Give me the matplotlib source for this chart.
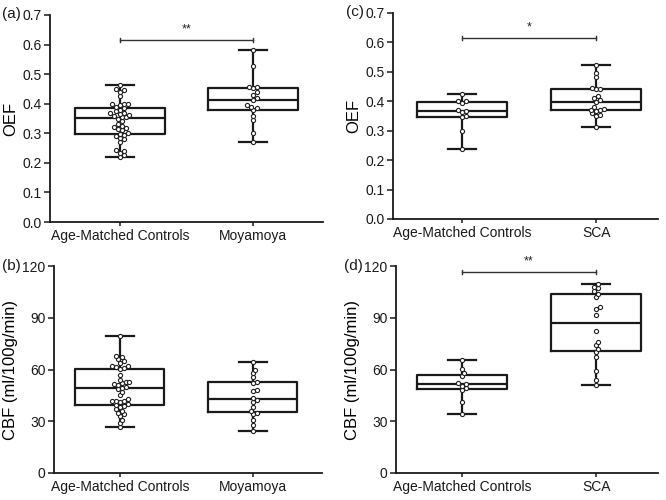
import numpy as np
import matplotlib
matplotlib.use("Agg")
import matplotlib.pyplot as plt

plt.rcParams['font.family'] = ['Liberation Sans', 'DejaVu Sans']

# ---------------- data ----------------
groups_a = ["Age-Matched Controls", "Moyamoya"]
groups_c = ["Age-Matched Controls", "SCA"]

oef_ctrl_moya = [0.22, 0.225, 0.235, 0.24, 0.245, 0.27, 0.28, 0.285, 0.29, 0.295,
                 0.298, 0.30, 0.31, 0.315, 0.318, 0.32, 0.325, 0.33, 0.34, 0.35,
                 0.354, 0.355, 0.36, 0.362, 0.365, 0.368, 0.37, 0.375, 0.38, 0.385,
                 0.39, 0.395, 0.398, 0.40, 0.40, 0.425, 0.44, 0.445, 0.45, 0.462]
oef_moya = [0.27, 0.30, 0.345, 0.36, 0.378, 0.385, 0.39, 0.395, 0.412, 0.42,
            0.43, 0.44, 0.452, 0.455, 0.458, 0.528, 0.58]

oef_ctrl_sca = [0.237, 0.30, 0.345, 0.35, 0.362, 0.368, 0.372, 0.395, 0.40, 0.402, 0.425]
oef_sca = [0.312, 0.35, 0.352, 0.36, 0.368, 0.37, 0.372, 0.375, 0.38, 0.398,
           0.405, 0.41, 0.418, 0.442, 0.443, 0.445, 0.482, 0.495, 0.522]

cbf_ctrl_moya = [26.5, 29, 31, 33, 34, 35, 36, 37, 38, 39,
                 39.5, 40, 41, 41.5, 42, 42, 43, 45, 47, 48.5,
                 49.5, 50, 51, 51.5, 52, 52.5, 53, 54, 57, 60.3,
                 61, 61.5, 62, 62, 64, 65, 66, 67, 68, 79.3]
cbf_moya = [24.5, 28, 30.5, 34, 35, 36, 38, 41, 42.5, 43.5,
            47.5, 48, 52, 53, 55.5, 58, 60, 64.5]

cbf_ctrl_sca = [34, 41, 48, 49, 50.5, 51.5, 52, 56, 58, 60.5, 65.5]
cbf_sca = [51, 54, 59, 67.5, 70, 72, 74, 76, 82.5,
           91.5, 95, 96, 102, 104, 105.5, 107, 108, 109.5]

oef_ticks = [0.0, 0.1, 0.2, 0.3, 0.4, 0.5, 0.6, 0.7]
cbf_ticks = [0, 30, 60, 90, 120]

# ---------------- layout ----------------
W, H = 666, 500
fig = plt.figure(figsize=(W / 100, H / 100), dpi=100)


def ax_at(l, r, t, b):
    return fig.add_axes([l / W, 1 - b / H, (r - l) / W, (b - t) / H])


def swarm_offsets(ax, values, pos, diam_px=3.8):
    """Simple beeswarm: compute x offsets in pixels avoiding overlap."""
    trans = ax.transData
    ys = np.array([trans.transform((pos, v))[1] for v in values])
    order = np.argsort(ys)
    placed = []
    offs = np.zeros(len(values))
    for i in order:
        y = ys[i]
        cands = [0.0]
        for k in range(1, 14):
            cands += [k * 0.5 * diam_px, -k * 0.5 * diam_px]
        for c in cands:
            ok = True
            for (px, py) in placed:
                if (px - c) ** 2 + (py - y) ** 2 < diam_px ** 2 * 0.9:
                    ok = False
                    break
            if ok:
                offs[i] = c
                placed.append((c, y))
                break
    return offs


def panel(ax, data, names, ylim, yticks, fmt, ylabel, xlim, sig=None):
    ax.set_xlim(*xlim)
    ax.set_ylim(*ylim)
    ax.boxplot(data, positions=[0, 1], widths=0.67, whis=(0, 100),
               showfliers=False, capwidths=0.21,
               boxprops=dict(color='#1a1a1a', linewidth=1.6),
               whiskerprops=dict(color='#1a1a1a', linewidth=1.6),
               capprops=dict(color='#1a1a1a', linewidth=1.6),
               medianprops=dict(color='#1a1a1a', linewidth=1.6))
    fig.canvas.draw()
    for p, vals in enumerate(data):
        offs = swarm_offsets(ax, vals, p)
        xpx = ax.transData.transform((p, 0))[0]
        xs = [ax.transData.inverted().transform((xpx + o, 0))[0] for o in offs]
        ax.scatter(xs, vals, s=9, facecolor='white', edgecolor='#222222',
                   linewidth=0.8, zorder=5, clip_on=False)
    ax.set_xticks([0, 1])
    ax.set_xticklabels(names, fontsize=10)
    ax.set_yticks(yticks)
    ax.set_yticklabels([fmt.format(t) for t in yticks], fontsize=10)
    ax.set_ylabel(ylabel, fontsize=12, labelpad=3)
    for s in ['top', 'right']:
        ax.spines[s].set_visible(False)
    for s in ['left', 'bottom']:
        ax.spines[s].set_linewidth(1.3)
        ax.spines[s].set_color('#1a1a1a')
    ax.tick_params(axis='both', direction='out', length=4, width=1.1,
                   colors='#1a1a1a', pad=2)
    ax.tick_params(axis='x', length=3)
    if sig is not None:
        y, star, h = sig
        ax.plot([0, 1], [y, y], color='#333333', lw=1.0, clip_on=False)
        for xx in (0, 1):
            ax.plot([xx, xx], [y - h, y + h], color='#333333', lw=1.0, clip_on=False)
        ax.text(0.5, y + 2.2 * h, star, ha='center', va='bottom', fontsize=9,
                color='#222222')


ax_a = ax_at(50, 323, 15, 222)
panel(ax_a, [oef_ctrl_moya, oef_moya], groups_a, (0, 0.7), oef_ticks, "{:.1f}", "OEF",
      (-0.526, 1.526), sig=(0.615, "**", 0.007))

ax_c = ax_at(393, 658, 13, 219)
panel(ax_c, [oef_ctrl_sca, oef_sca], groups_c, (0, 0.7), oef_ticks, "{:.1f}", "OEF",
      (-0.515, 1.46), sig=(0.615, "*", 0.007))

ax_b = ax_at(54, 322, 266, 473)
panel(ax_b, [cbf_ctrl_moya, cbf_moya], groups_a, (0, 120), cbf_ticks, "{:.0f}",
      "CBF (ml/100g/min)", (-0.496, 1.52))

ax_d = ax_at(396, 658, 266, 473)
panel(ax_d, [cbf_ctrl_sca, cbf_sca], groups_c, (0, 120), cbf_ticks, "{:.0f}",
      "CBF (ml/100g/min)", (-0.49, 1.46), sig=(116.5, "**", 1.2))

for lbl, x, y in [("(a)", 2, 14), ("(c)", 346, 12), ("(b)", 2, 266), ("(d)", 344, 266)]:
    fig.text(x / W, 1 - y / H, lbl, fontsize=11, ha='left', va='center', color='#1a1a1a')

fig.savefig("out.png", dpi=100)
